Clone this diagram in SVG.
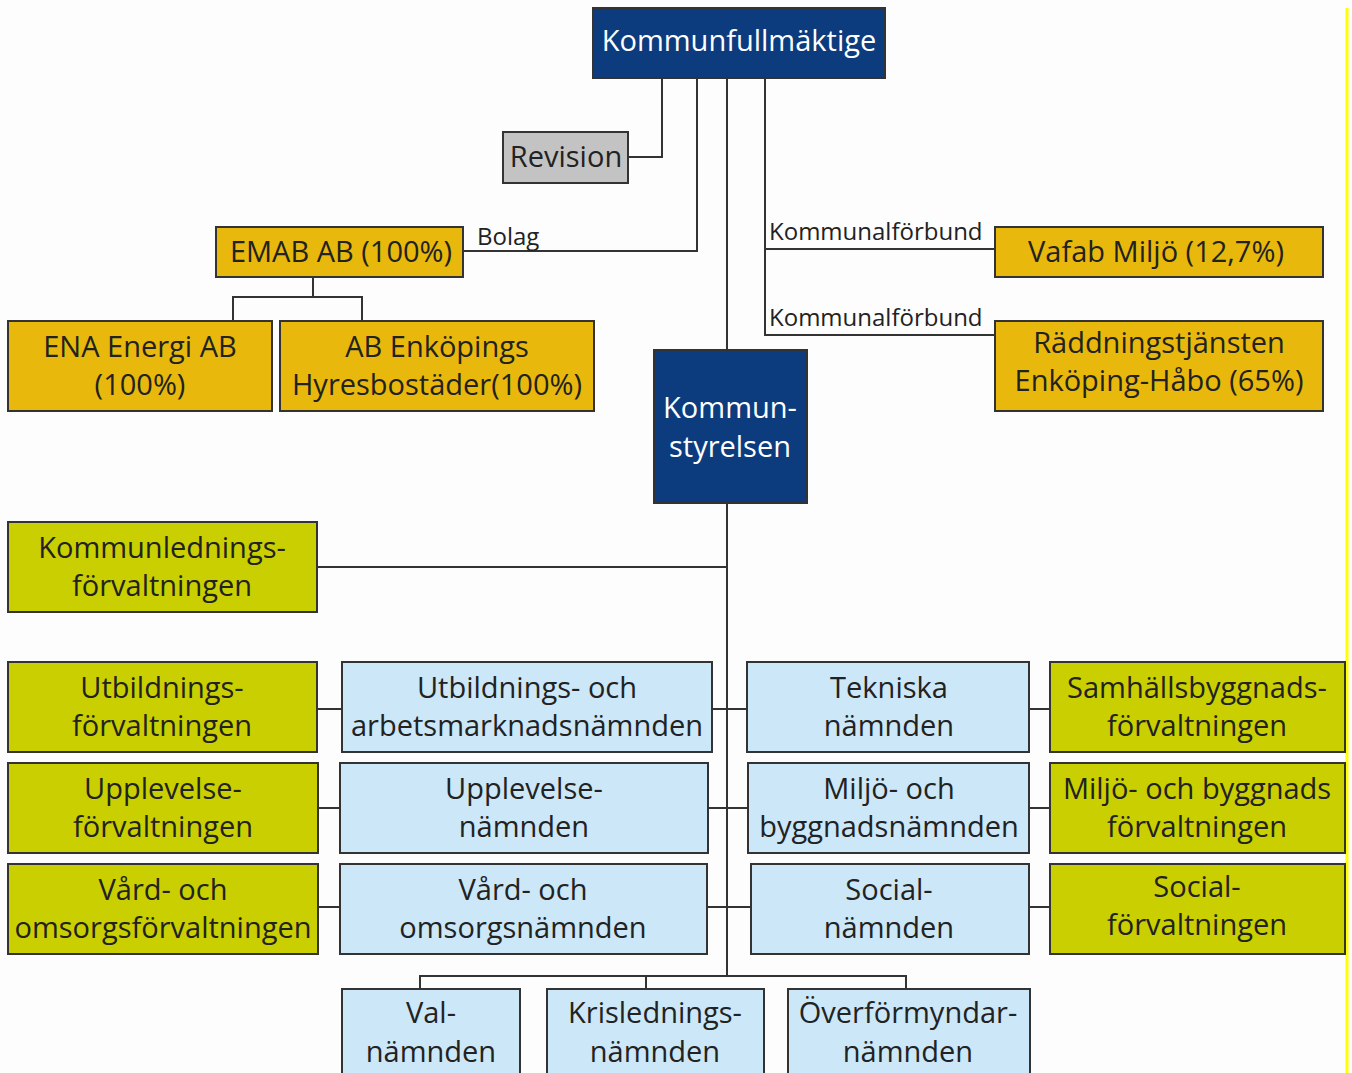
<svg xmlns="http://www.w3.org/2000/svg" width="1352" height="1073" viewBox="0 0 1352 1073">
<style>
.box{stroke:#333;stroke-width:2}
.dk{fill:#0c3c7e}
.gy{fill:#c3c3c3}
.gd{fill:#e8b80c}
.gr{fill:#c9cf00}
.lb{fill:#cbe7f8}
text{font-family:"Open Sans","Noto Sans","Liberation Sans",sans-serif;font-size:29px;fill:#222;text-anchor:middle}
text.w{fill:#fff}
text.lbl{font-size:24px;text-anchor:start}
.conn path{fill:none;stroke:#333;stroke-width:2}
</style>
<rect width="1352" height="1073" fill="#fdfdfd"/>
<line x1="1347" y1="8" x2="1347" y2="1073" stroke="#ffff00" stroke-width="3"/>
<g class="conn">
<path d="M662,78 V157 H628"/>
<path d="M697,78 V251 H463"/>
<path d="M727,78 V350"/>
<path d="M765,78 V335 H995 M765,249 H995"/>
<path d="M313,277 V297 M233,321 V297 H362 V321"/>
<path d="M727,503 V976"/>
<path d="M317,567 H727"/>
<path d="M317,709 H342 M712,709 H747 M1029,709 H1050"/>
<path d="M318,808 H340 M708,808 H748 M1029,808 H1050"/>
<path d="M318,907 H340 M707,907 H751 M1029,907 H1050"/>
<path d="M420,989 V976 H906 V989 M646,976 V989"/>
</g>
<text class="lbl" x="477" y="245">Bolag</text>
<text class="lbl" x="769" y="240">Kommunalförbund</text>
<text class="lbl" x="769" y="326">Kommunalförbund</text>
<g id="kf"><rect class="box dk" x="593" y="8" width="292" height="70"/><text class="w" x="739" y="51">Kommunfullmäktige</text></g>
<g id="revision"><rect class="box gy" x="503" y="132" width="125" height="51"/><text x="566" y="167">Revision</text></g>
<g id="emab"><rect class="box gd" x="216" y="227" width="247" height="50"/><text x="341" y="262">EMAB AB (100%)</text></g>
<g id="ena"><rect class="box gd" x="8" y="321" width="264" height="90"/><text x="140" y="357">ENA Energi AB</text><text x="140" y="395">(100%)</text></g>
<g id="abe"><rect class="box gd" x="280" y="321" width="314" height="90"/><text x="437" y="357">AB Enköpings</text><text x="437" y="395">Hyresbostäder(100%)</text></g>
<g id="vafab"><rect class="box gd" x="995" y="227" width="328" height="50"/><text x="1156" y="262">Vafab Miljö (12,7%)</text></g>
<g id="rtj"><rect class="box gd" x="995" y="321" width="328" height="90"/><text x="1159" y="353">Räddningstjänsten</text><text x="1159" y="391">Enköping-Håbo (65%)</text></g>
<g id="ks"><rect class="box dk" x="654" y="350" width="153" height="153"/><text class="w" x="730" y="418">Kommun-</text><text class="w" x="730" y="457">styrelsen</text></g>
<g id="klf"><rect class="box gr" x="8" y="522" width="309" height="90"/><text x="162" y="558">Kommunlednings-</text><text x="162" y="596">förvaltningen</text></g>
<g id="uf"><rect class="box gr" x="8" y="662" width="309" height="90"/><text x="162" y="698">Utbildnings-</text><text x="162" y="736">förvaltningen</text></g>
<g id="uan"><rect class="box lb" x="342" y="662" width="370" height="90"/><text x="527" y="698">Utbildnings- och</text><text x="527" y="736">arbetsmarknadsnämnden</text></g>
<g id="tn"><rect class="box lb" x="747" y="662" width="282" height="90"/><text x="889" y="698">Tekniska</text><text x="889" y="736">nämnden</text></g>
<g id="sbf"><rect class="box gr" x="1050" y="662" width="295" height="90"/><text x="1197" y="698">Samhällsbyggnads-</text><text x="1197" y="736">förvaltningen</text></g>
<g id="upf"><rect class="box gr" x="8" y="763" width="310" height="90"/><text x="163" y="799">Upplevelse-</text><text x="163" y="837">förvaltningen</text></g>
<g id="upn"><rect class="box lb" x="340" y="763" width="368" height="90"/><text x="524" y="799">Upplevelse-</text><text x="524" y="837">nämnden</text></g>
<g id="mbn"><rect class="box lb" x="748" y="763" width="281" height="90"/><text x="889" y="799">Miljö- och</text><text x="889" y="837">byggnadsnämnden</text></g>
<g id="mbf"><rect class="box gr" x="1050" y="763" width="295" height="90"/><text x="1197" y="799">Miljö- och byggnads</text><text x="1197" y="837">förvaltningen</text></g>
<g id="vof"><rect class="box gr" x="8" y="864" width="310" height="90"/><text x="163" y="900">Vård- och</text><text x="163" y="938">omsorgsförvaltningen</text></g>
<g id="von"><rect class="box lb" x="340" y="864" width="367" height="90"/><text x="523" y="900">Vård- och</text><text x="523" y="938">omsorgsnämnden</text></g>
<g id="sn"><rect class="box lb" x="751" y="864" width="278" height="90"/><text x="889" y="900">Social-</text><text x="889" y="938">nämnden</text></g>
<g id="sf"><rect class="box gr" x="1050" y="864" width="295" height="90"/><text x="1197" y="897">Social-</text><text x="1197" y="935">förvaltningen</text></g>
<g id="val"><rect class="box lb" x="342" y="989" width="178" height="100"/><text x="431" y="1023">Val-</text><text x="431" y="1062">nämnden</text></g>
<g id="kris"><rect class="box lb" x="547" y="989" width="217" height="100"/><text x="655" y="1023">Krislednings-</text><text x="655" y="1062">nämnden</text></g>
<g id="over"><rect class="box lb" x="788" y="989" width="242" height="100"/><text x="908" y="1023">Överförmyndar-</text><text x="908" y="1062">nämnden</text></g>
</svg>
